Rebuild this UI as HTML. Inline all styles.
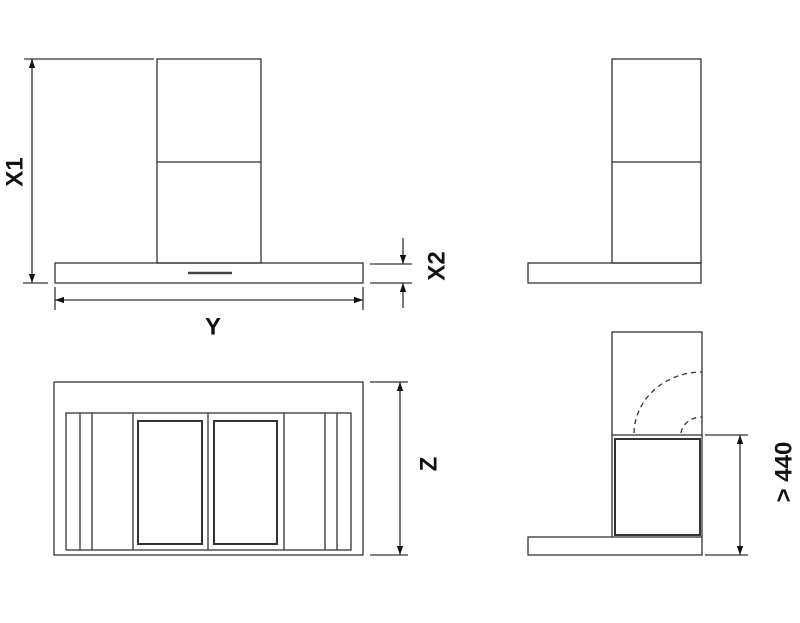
<!DOCTYPE html>
<html><head><meta charset="utf-8"><style>
html,body{margin:0;padding:0;background:#fff;width:800px;height:623px;overflow:hidden}
svg{display:block}
text{font-family:"Liberation Sans",sans-serif;font-weight:900;font-size:24px;fill:#111}
</style></head><body>
<svg width="800" height="623" viewBox="0 0 800 623" xmlns="http://www.w3.org/2000/svg">
<defs>
<marker id="a" viewBox="0 0 10 10" refX="10" refY="5" markerWidth="11" markerHeight="9" orient="auto-start-reverse" markerUnits="userSpaceOnUse"><path d="M0,1.5 L10,5 L0,8.5 z" fill="#111"/></marker>
</defs>
<g fill="none" stroke="#333" stroke-width="1.3">
<rect x="157" y="59" width="104" height="204"/>
<line x1="157" y1="162" x2="261" y2="162"/>
<rect x="55" y="263" width="308" height="20"/>
<line x1="188" y1="273" x2="232" y2="273" stroke-width="2.5" stroke="#444"/>
<line x1="24" y1="59" x2="154" y2="59"/>
<line x1="23" y1="283" x2="48" y2="283"/>
<line x1="32" y1="59" x2="32" y2="283" marker-start="url(#a)" marker-end="url(#a)"/>
<line x1="55" y1="287" x2="55" y2="310"/>
<line x1="363" y1="287" x2="363" y2="310"/>
<line x1="55" y1="300" x2="363" y2="300" marker-start="url(#a)" marker-end="url(#a)"/>
<line x1="370" y1="264" x2="412" y2="264"/>
<line x1="370" y1="283" x2="412" y2="283"/>
<line x1="403" y1="238" x2="403" y2="264" marker-end="url(#a)"/>
<line x1="403" y1="308" x2="403" y2="283" marker-end="url(#a)"/>
<rect x="612" y="59" width="89" height="204"/>
<line x1="612" y1="162" x2="701" y2="162"/>
<rect x="528" y="263" width="173" height="20"/>
<rect x="54" y="382" width="309" height="173"/>
<rect x="66" y="413" width="285" height="137"/>
<line x1="80" y1="413" x2="80" y2="550"/>
<line x1="92" y1="413" x2="92" y2="550"/>
<line x1="133" y1="413" x2="133" y2="550"/>
<line x1="208" y1="413" x2="208" y2="550"/>
<line x1="284" y1="413" x2="284" y2="550"/>
<line x1="325" y1="413" x2="325" y2="550"/>
<line x1="337" y1="413" x2="337" y2="550"/>
<rect x="138" y="421" width="64" height="123" stroke-width="2"/>
<rect x="214" y="421" width="63" height="123" stroke-width="2"/>
<line x1="370" y1="382" x2="408" y2="382"/>
<line x1="370" y1="555" x2="408" y2="555"/>
<line x1="400" y1="382" x2="400" y2="555" marker-start="url(#a)" marker-end="url(#a)"/>
<rect x="612" y="332" width="90" height="103"/>
<rect x="615" y="439" width="85" height="96" stroke-width="2"/>
<line x1="612" y1="435" x2="612" y2="537"/>
<line x1="702" y1="435" x2="702" y2="537"/>
<rect x="528" y="537" width="174" height="18"/>
<path d="M634,433 A68,62 0 0 1 702,372" stroke-dasharray="5,4"/>
<path d="M681,433 A21,18 0 0 1 702,417" stroke-dasharray="5,4"/>
<line x1="705" y1="435" x2="748" y2="435"/>
<line x1="705" y1="555" x2="748" y2="555"/>
<line x1="740" y1="435" x2="740" y2="555" marker-start="url(#a)" marker-end="url(#a)"/>
</g>
<text x="15" y="172" text-anchor="middle" dominant-baseline="central" transform="rotate(-90 15 172)">X1</text>
<text x="213" y="327" text-anchor="middle" dominant-baseline="central">Y</text>
<text x="437" y="266" text-anchor="middle" dominant-baseline="central" transform="rotate(-90 437 266)">X2</text>
<text x="429" y="464" text-anchor="middle" dominant-baseline="central" transform="rotate(-90 429 464)">Z</text>
<text x="784" y="472" text-anchor="middle" dominant-baseline="central" transform="rotate(-90 784 472)">&gt; 440</text>
</svg>
</body></html>
